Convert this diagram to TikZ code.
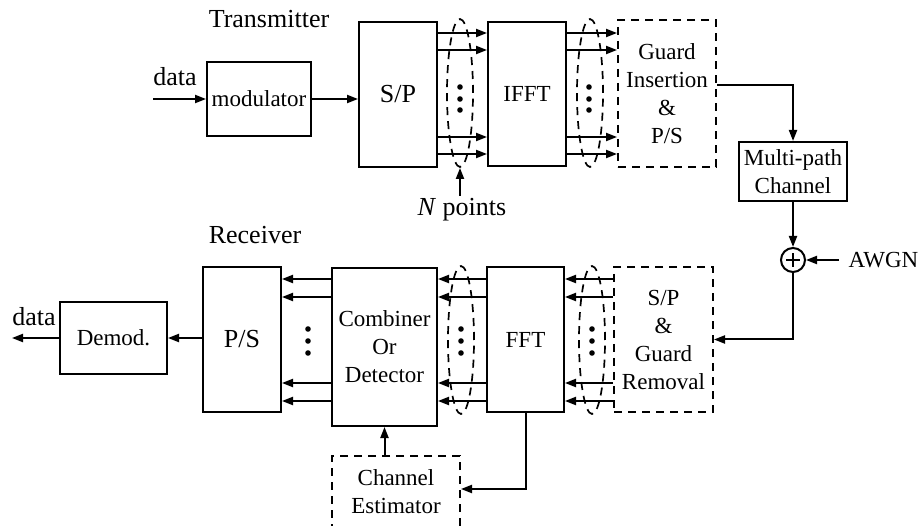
\documentclass[tikz,border=0pt]{standalone}
\usepackage{fontspec}
\setmainfont{Liberation Serif}
\usetikzlibrary{arrows.meta,shapes.geometric}
\begin{document}
\begin{tikzpicture}[x=1pt,y=-1pt,
  every node/.style={font=\fontsize{23}{28}\selectfont},
  lbl/.style={font=\fontsize{26}{30}\selectfont},
  blk/.style={draw, line width=2pt, inner sep=0pt, align=center},
  dblk/.style={blk, dash pattern=on 8pt off 6pt},
  arr/.style={line width=2pt, -{Triangle[length=11pt,width=8pt]}},
  ell/.style={draw, ellipse, line width=1.7pt, dash pattern=on 8pt off 6pt, inner sep=0pt}]
\path[use as bounding box] (0,0) rectangle (918,526);
\clip (0,0) rectangle (918,526);

% row coordinates
\coordinate (t1) at (0,33);
\coordinate (t2) at (0,50);
\coordinate (t3) at (0,137);
\coordinate (t4) at (0,154);
\coordinate (b1) at (0,279);
\coordinate (b2) at (0,297);
\coordinate (b3) at (0,383);
\coordinate (b4) at (0,401);
\coordinate (g1) at (0,85);
\coordinate (c1) at (0,489);

% transmitter
\node[lbl] (tx) at (269,19) {Transmitter};
\node[lbl] (din) at (175,77) {data};
\node[blk, minimum width=104, minimum height=74] (mod) at (259,99) {modulator};
\node[blk, lbl, minimum width=78, minimum height=145] (sp) at (398,94.5) {S/P};
\node[blk, minimum width=78, minimum height=144] (ifft) at (527,94) {IFFT};
\node[dblk, minimum width=98, minimum height=147] (gi) at (667,93.5) {Guard\\Insertion\\\&\\P/S};
\node[blk, minimum width=108, minimum height=59] (mpc) at (793,171.5) {Multi-path\\Channel};
\node[draw, circle, line width=2pt, minimum size=24, inner sep=0pt] (sum) at (793,260) {};
\draw[line width=1.7pt] ([yshift=-7pt]sum.center) -- ([yshift=7pt]sum.center)
  ([xshift=-7pt]sum.center) -- ([xshift=7pt]sum.center);
\node[anchor=west] (awgn) at (845,260) {AWGN};
\coordinate (awgnin) at (839,260);
\coordinate (dinstart) at (153,99);

\node[ell, minimum width=26, minimum height=148] (e1) at (460,93) {};
\node[ell, minimum width=26, minimum height=148] (e2) at (590,93) {};
\node[lbl] (np) at (462,210) {\textit{N} points};
\coordinate (npt) at (460,196);
\coordinate (nptip) at (460,168);

% receiver
\node[lbl] (rx) at (255,235) {Receiver};
\node[dblk, minimum width=99, minimum height=145] (gr) at (663.5,339.5) {S/P\\\&\\Guard\\Removal};
\node[blk, minimum width=77, minimum height=145] (fft) at (525.5,339.5) {FFT};
\node[blk, minimum width=105, minimum height=158] (comb) at (384.5,347) {Combiner\\Or\\Detector};
\node[blk, lbl, minimum width=78, minimum height=145] (ps) at (242,339.5) {P/S};
\node[blk, minimum width=107, minimum height=72] (demod) at (113.5,338) {Demod.};
\node[lbl] (dout) at (34,317) {data};
\coordinate (outend) at (12,338);
\node[dblk, minimum width=128, minimum height=110] (ce) at (396,511) {};
\node[align=center] (cet) at (396,491.5) {Channel\\Estimator};
\node[ell, minimum width=26, minimum height=148] (e3) at (461,340) {};
\node[ell, minimum width=26, minimum height=148] (e4) at (592,340) {};

% dots
\foreach \x in {460,589} \foreach \y in {87,99,110} \fill (\x,\y) circle[radius=2.8pt];
\foreach \x in {308,461,592} \foreach \y in {329,341,353} \fill (\x,\y) circle[radius=2.8pt];

% connectors
\draw[arr] (dinstart) -- (mod.west);
\draw[arr] (mod.east) -- (sp.west |- mod.east);
\foreach \r in {t1,t2,t3,t4} {
  \draw[arr] (sp.east |- \r) -- (ifft.west |- \r);
  \draw[arr] (ifft.east |- \r) -- (gi.west |- \r);
}
\draw[arr] (gi.east |- g1) -| (mpc.north);
\draw[arr] (mpc.south) -- (sum.north);
\draw[arr] (awgnin) -- (sum.east);
\draw[arr] (sum.south) |- (gr.east);
\foreach \r in {b1,b2,b3,b4} {
  \draw[arr] (gr.west |- \r) -- (fft.east |- \r);
  \draw[arr] (fft.west |- \r) -- (comb.east |- \r);
  \draw[arr] (comb.west |- \r) -- (ps.east |- \r);
}
\draw[arr] (ps.west |- demod.east) -- (demod.east);
\draw[arr] (demod.west) -- (outend);
\draw[arr] (comb.south |- ce.north) -- (comb.south);
\draw[arr] (fft.south) |- (ce.east |- c1);
\draw[arr] (npt) -- (nptip);
\end{tikzpicture}
\end{document}
